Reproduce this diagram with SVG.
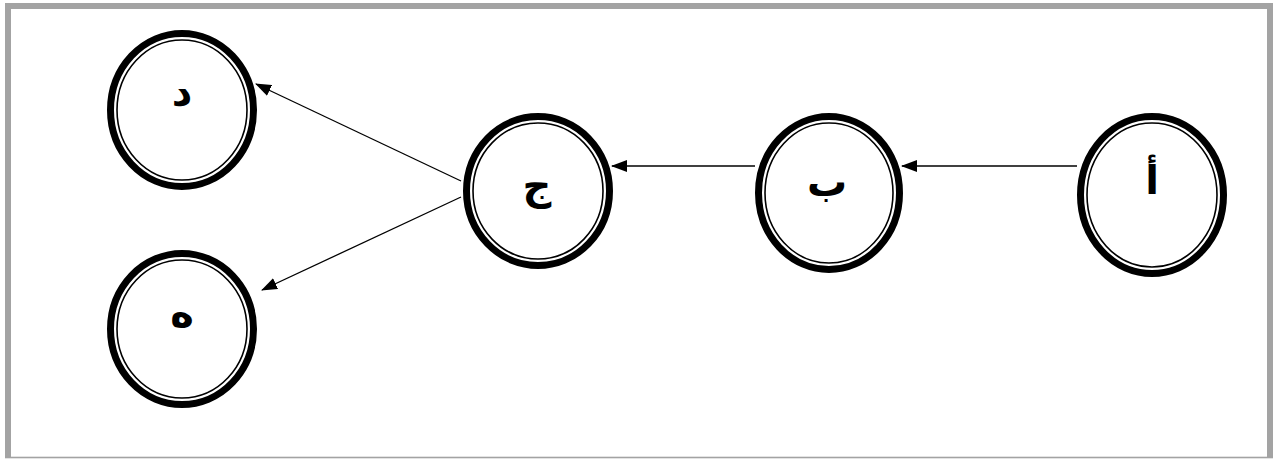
<svg xmlns="http://www.w3.org/2000/svg" width="1274" height="459" viewBox="0 0 1274 459">
<style>
.outer{fill:#fff;stroke:#000;stroke-width:7}
.inner{fill:none;stroke:#000;stroke-width:1.6}
.lbl{font-family:"DejaVu Sans","Noto Sans",sans-serif;font-weight:bold;font-size:40px;fill:#000;text-anchor:middle}
.edge{stroke:#000;stroke-width:1.3;fill:none;marker-end:url(#ah)}
.frame{fill:#a3a3a3}
</style>
<defs>
<marker id="ah" markerWidth="16" markerHeight="12" refX="15" refY="6" orient="auto" markerUnits="userSpaceOnUse">
<path d="M0,0 L16,6 L0,12 Z" fill="#000"/>
</marker>
</defs>
<rect width="1274" height="459" fill="#fff"/>
<g id="frame">
<rect class="frame" x="5" y="3" width="1268" height="6"/>
<rect class="frame" x="5" y="3" width="6" height="455"/>
<rect class="frame" x="1267" y="3" width="6" height="455"/>
<rect class="frame" x="5" y="456.7" width="1268" height="1.6"/>
</g>
<g id="connectors">
<line class="edge" x1="1077" y1="166" x2="902" y2="166"/>
<line class="edge" x1="755" y1="166" x2="612" y2="166"/>
<line class="edge" x1="461" y1="181" x2="256" y2="84"/>
<line class="edge" x1="461" y1="197" x2="262" y2="290"/>
</g>
<g id="node-d">
<ellipse class="outer" cx="182" cy="110" rx="71.5" ry="76.5"/>
<ellipse class="inner" cx="182" cy="110" rx="65" ry="70"/>
<text class="lbl" x="182" y="106">د</text>
</g>
<g id="node-e">
<ellipse class="outer" cx="182" cy="329" rx="71.5" ry="75.5"/>
<ellipse class="inner" cx="182" cy="329" rx="65" ry="69"/>
<text class="lbl" x="182" y="327">ه</text>
</g>
<g id="node-j">
<ellipse class="outer" cx="538" cy="191" rx="71.5" ry="74.5"/>
<ellipse class="inner" cx="538" cy="191" rx="65" ry="68"/>
<text class="lbl" x="537" y="199">ج</text>
</g>
<g id="node-b">
<ellipse class="outer" cx="829" cy="193" rx="70.5" ry="76.5"/>
<ellipse class="inner" cx="829" cy="193" rx="64" ry="70"/>
<text class="lbl" x="827" y="196">ب</text>
</g>
<g id="node-a">
<ellipse class="outer" cx="1152" cy="195" rx="71.5" ry="78.5"/>
<ellipse class="inner" cx="1152" cy="195" rx="65" ry="72"/>
<text class="lbl" x="1152" y="194">أ</text>
</g>
</svg>
